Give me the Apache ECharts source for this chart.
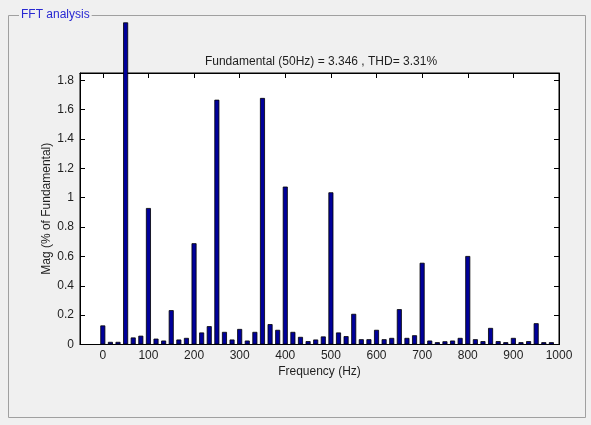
<!DOCTYPE html>
<html>
<head>
<meta charset="utf-8">
<script src="https://cdn.jsdelivr.net/npm/echarts@6/dist/echarts.min.js"></script>
<style>
html,body{margin:0;padding:0;background:#f0f0f0;}
#c{width:591px;height:425px;}
</style>
</head>
<body>
<div id="c"></div>
<script>
// Frequencies (Hz), bin spacing 50/3 Hz
const frequencies = [0,16.67,33.33,50,66.67,83.33,100,116.67,133.33,150,166.67,183.33,200,216.67,233.33,250,266.67,283.33,300,316.67,333.33,350,366.67,383.33,400,416.67,433.33,450,466.67,483.33,500,516.67,533.33,550,566.67,583.33,600,616.67,633.33,650,666.67,683.33,700,716.67,733.33,750,766.67,783.33,800,816.67,833.33,850,866.67,883.33,900,916.67,933.33,950,966.67,983.33];
// Magnitude (% of fundamental); the 50 Hz bar runs off the top of the axes
const magnitudes = [0.13,0.018,0.018,2.195,0.048,0.06,0.93,0.04,0.027,0.234,0.034,0.045,0.69,0.082,0.125,1.668,0.086,0.034,0.106,0.027,0.086,1.68,0.139,0.10,1.076,0.086,0.052,0.023,0.034,0.055,1.037,0.082,0.057,0.209,0.036,0.036,0.10,0.036,0.045,0.241,0.045,0.063,0.557,0.027,0.016,0.022,0.027,0.045,0.603,0.036,0.023,0.113,0.023,0.016,0.045,0.016,0.023,0.145,0.016,0.016];
const xTickValues = [0,100,200,300,400,500,600,700,800,900,1000];
const yTickValues = [0,0.2,0.4,0.6,0.8,1,1.2,1.4,1.6,1.8];
const titleText = 'Fundamental (50Hz) = 3.346 , THD= 3.31%';
const panelTitle = 'FFT analysis';

const chart = echarts.init(document.getElementById('c'));
const font = 'Liberation Sans, Arial, sans-serif';
const txt = '#1e1e1e';
chart.setOption({
  backgroundColor: '#f0f0f0',
  animation: false,
  title: {
    text: titleText, left: 316, top: 51, textAlign: 'center',
    textStyle: {fontFamily: font, fontSize: 12, fontWeight: 'normal', color: txt}
  },
  graphic: [
    {type: 'rect', shape: {x: 8.5, y: 15.5, width: 577, height: 402},
     style: {fill: null, stroke: '#a0a0a0', lineWidth: 1}, z: 0},
    {type: 'text', x: 19, y: 15, style: {text: panelTitle, fill: '#2828d2', font: '12px ' + font,
      textVerticalAlign: 'middle', backgroundColor: '#f0f0f0', padding: [0, 2, 0, 2]}, z: 1}
  ],
  grid: {left: 80, top: 73, width: 479, height: 271.5, show: true,
    backgroundColor: '#fff', borderColor: '#000', borderWidth: 1},
  xAxis: [{
    type: 'value', min: -50, max: 1000, position: 'bottom',
    name: 'Frequency (Hz)', nameLocation: 'middle', nameGap: 21, nameMoveOverlap: false,
    nameTextStyle: {fontFamily: font, fontSize: 12, color: txt},
    axisLine: {show: true, onZero: false, lineStyle: {color: '#000'}},
    axisTick: {inside: true, length: 5, customValues: xTickValues, lineStyle: {color: '#000'}},
    axisLabel: {customValues: xTickValues, formatter: v => String(v), fontFamily: font, fontSize: 12, color: txt, margin: 5},
    splitLine: {show: false}
  }, {
    type: 'value', min: -50, max: 1000, position: 'top',
    axisLine: {show: true, onZero: false, lineStyle: {color: '#000'}},
    axisTick: {inside: true, length: 5, customValues: xTickValues, lineStyle: {color: '#000'}},
    axisLabel: {show: false}, splitLine: {show: false}
  }],
  yAxis: [{
    type: 'value', min: 0, max: 1.85, position: 'left',
    name: 'Mag (% of Fundamental)', nameLocation: 'middle', nameGap: 27, nameMoveOverlap: false,
    nameTextStyle: {fontFamily: font, fontSize: 12, color: txt},
    axisLine: {show: true, onZero: false, lineStyle: {color: '#000'}},
    axisTick: {inside: true, length: 5, customValues: yTickValues, lineStyle: {color: '#000'}},
    axisLabel: {customValues: yTickValues, formatter: v => String(v), fontFamily: font, fontSize: 12, color: txt, margin: 6},
    splitLine: {show: false}
  }, {
    type: 'value', min: 0, max: 1.85, position: 'right',
    axisLine: {show: true, onZero: false, lineStyle: {color: '#000'}},
    axisTick: {inside: true, length: 5, customValues: yTickValues, lineStyle: {color: '#000'}},
    axisLabel: {show: false}, splitLine: {show: false}
  }],
  series: [{
    type: 'bar', xAxisIndex: 0, yAxisIndex: 0, clip: false,
    barWidth: 5,
    data: frequencies.map((f, i) => [f, magnitudes[i]]),
    itemStyle: {color: '#00009a', borderColor: '#000', borderWidth: 0.8}
  }]
});
</script>
</body>
</html>
